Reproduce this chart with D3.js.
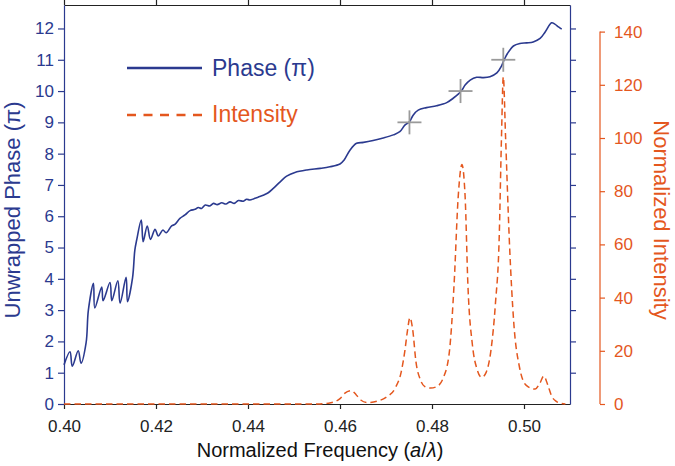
<!DOCTYPE html>
<meta charset="utf-8">
<style>
  body { margin: 0; background: #fff; }
  svg { font-family: "Liberation Sans", Arial, sans-serif; }
</style>
<svg width="675" height="466"></svg>
<script src="https://d3js.org/d3.v7.min.js"></script>
<script>

// phase curve: [normalized frequency, phase in units of pi]
var phaseFreq = [0.4000, 0.4013, 0.4018, 0.4031, 0.4037, 0.4048, 0.4053, 0.4064, 0.4067, 0.4082,
  0.4085, 0.4100, 0.4104, 0.4117, 0.4122, 0.4135, 0.4138, 0.4149, 0.4154, 0.4158,
  0.4168, 0.4172, 0.4181, 0.4188, 0.4198, 0.4205, 0.4215, 0.4222, 0.4234, 0.4241,
  0.4252, 0.4263, 0.4274, 0.4285, 0.4292, 0.4299, 0.4307, 0.4317, 0.4325, 0.4333,
  0.4343, 0.4352, 0.4361, 0.4370, 0.4379, 0.4390, 0.4397, 0.4404, 0.4413, 0.4422,
  0.4433, 0.4444, 0.4455, 0.4470, 0.4484, 0.4502, 0.4528, 0.4557, 0.4578, 0.4600,
  0.4609, 0.4622, 0.4636, 0.4651, 0.4672, 0.4694, 0.4716, 0.4730, 0.4741, 0.4751,
  0.4759, 0.4770, 0.4788, 0.4810, 0.4832, 0.4846, 0.4857, 0.4865, 0.4872, 0.4883,
  0.4897, 0.4912, 0.4926, 0.4941, 0.4951, 0.4957, 0.4964, 0.4977, 0.4991, 0.5006,
  0.5020, 0.5035, 0.5046, 0.5060, 0.5067, 0.5075, 0.5082];
var phaseVal = [1.25, 1.67, 1.21, 1.70, 1.30, 1.95, 3.00, 3.86, 3.07, 3.74,
  3.30, 3.88, 3.30, 3.94, 3.22, 4.05, 3.27, 4.03, 4.92, 5.24,
  5.88, 5.19, 5.69, 5.26, 5.58, 5.37, 5.56, 5.47, 5.69, 5.74,
  5.93, 6.04, 6.18, 6.22, 6.28, 6.25, 6.36, 6.33, 6.41, 6.37,
  6.43, 6.39, 6.46, 6.41, 6.50, 6.48, 6.54, 6.52, 6.56, 6.61,
  6.67, 6.75, 6.89, 7.10, 7.28, 7.40, 7.48, 7.53, 7.58, 7.67,
  7.80, 8.12, 8.33, 8.36, 8.42, 8.50, 8.60, 8.70, 8.91, 9.02,
  9.23, 9.39, 9.47, 9.53, 9.63, 9.77, 9.90, 10.03, 10.19, 10.35,
  10.44, 10.43, 10.46, 10.58, 10.80, 11.00, 11.20, 11.44, 11.52, 11.54,
  11.57, 11.68, 11.89, 12.18, 12.14, 12.05, 11.98];

// normalized intensity
var intFreq = [0.400, 0.455, 0.458, 0.460, 0.461, 0.4625, 0.4635, 0.4645, 0.466, 0.468,
  0.470, 0.472, 0.4733, 0.4741, 0.4747, 0.4752, 0.4758, 0.4765, 0.4775, 0.4785,
  0.4797, 0.481, 0.4825, 0.4838, 0.4848, 0.4857, 0.4865, 0.4872, 0.4878, 0.4888,
  0.4898, 0.4908, 0.4918, 0.4928, 0.4938, 0.4946, 0.4951, 0.4955, 0.4960, 0.4968,
  0.4978, 0.4990, 0.5005, 0.5024, 0.5035, 0.5043, 0.5052, 0.506, 0.507, 0.508, 0.509];
var intVal = [0, 0, 0.5, 2, 4, 5, 3.5, 1.5, 0.5, 1,
  2.5, 6, 12, 20, 28, 32.5, 28, 16, 9, 6.5,
  6, 6.5, 10, 20, 45, 78, 90, 78, 45, 22,
  13, 10, 12, 20, 38, 62, 100, 123, 100, 62,
  30, 14, 7, 5.6, 8, 10.5, 7, 3, 1, 0.3, 0];

// gray cross markers at the integer phase steps
var markFreq = [0.4751, 0.4862, 0.4955];
var markVal = [9, 10, 11];

var xTicks = [0.40, 0.42, 0.44, 0.46, 0.48, 0.50];
var leftTicks = [0, 1, 2, 3, 4, 5, 6, 7, 8, 9, 10, 11, 12];
var rightTicks = [0, 20, 40, 60, 80, 100, 120, 140];

var blue = "#2b3a8f", orange = "#e4571e";

var margin = {top: 5, right: 105, bottom: 62, left: 64},
    width = 675 - margin.left - margin.right,
    height = 466 - margin.top - margin.bottom;

var svg = d3.select("svg"),
    g = svg.append("g").attr("transform", "translate(" + margin.left + "," + margin.top + ")");

var x = d3.scaleLinear().domain([0.40, 0.51]).range([0, width]);
var yL = d3.scaleLinear().domain([0, 12.75]).range([height, 0]);
var yR = d3.scaleLinear().domain([0, 150]).range([height, 0]);

function styleAxis(sel, color, size) {
  sel.selectAll("path, line").attr("stroke", color).attr("stroke-width", 1.2);
  sel.selectAll("text").attr("fill", color).attr("font-size", size);
}

// top and bottom frame
g.append("g")
    .call(d3.axisTop(x).tickValues(xTicks).tickSize(5).tickSizeOuter(0).tickFormat(""))
    .call(styleAxis, "#222", 17);

g.append("g")
    .attr("transform", "translate(0," + height + ")")
    .call(d3.axisBottom(x).tickValues(xTicks).tickSize(5).tickSizeOuter(0).tickPadding(11).tickFormat(d3.format(".2f")))
    .call(styleAxis, "#222", 17);

// left and right phase axes
g.append("g")
    .call(d3.axisLeft(yL).tickValues(leftTicks).tickSize(6).tickSizeOuter(0).tickPadding(4))
    .call(styleAxis, blue, 17);

g.append("g")
    .attr("transform", "translate(" + width + ",0)")
    .call(d3.axisRight(yL).tickValues(leftTicks.slice(1)).tickSize(6).tickSizeOuter(0).tickFormat(""))
    .call(styleAxis, blue, 17);

// separate intensity axis
var rAxis = g.append("g")
    .attr("transform", "translate(" + (width + 30) + ",0)")
    .call(d3.axisRight(yR).tickValues(rightTicks).tickSize(5).tickPadding(9))
    .call(styleAxis, orange, 17);
rAxis.select(".domain").remove();
rAxis.append("line")
    .attr("y1", yR(0)).attr("y2", yR(140))
    .attr("stroke", orange).attr("stroke-width", 1.2);

// axis titles
g.append("text")
    .attr("transform", "translate(" + (20 - margin.left) + "," + (210 - margin.top) + ")rotate(-90)")
    .attr("text-anchor", "middle")
    .attr("font-size", 22)
    .attr("fill", blue)
    .text("Unwrapped Phase (\u03c0)");

g.append("text")
    .attr("transform", "translate(" + (654 - margin.left) + "," + (220 - margin.top) + ")rotate(90)")
    .attr("text-anchor", "middle")
    .attr("font-size", 22)
    .attr("fill", orange)
    .text("Normalized Intensity");

var xt = g.append("text")
    .attr("x", width / 2 + 3)
    .attr("y", 457 - margin.top)
    .attr("text-anchor", "middle")
    .attr("font-size", 20)
    .attr("fill", "#111")
    .text("Normalized Frequency (");
xt.append("tspan").attr("font-style", "italic").text("a");
xt.append("tspan").text("/");
xt.append("tspan").attr("font-style", "italic").text("\u03bb");
xt.append("tspan").text(")");

// curves
var intensity = intFreq.map(function(f, i) { return [f, intVal[i]]; });
var phase = phaseFreq.map(function(f, i) { return [f, phaseVal[i]]; });

g.append("path")
    .datum(intensity)
    .attr("fill", "none")
    .attr("stroke", orange)
    .attr("stroke-width", 1.5)
    .attr("stroke-dasharray", "6.5,4")
    .attr("d", d3.line()
        .x(function(d) { return x(d[0]); })
        .y(function(d) { return yR(d[1]); })
        .curve(d3.curveMonotoneX));

g.append("path")
    .datum(phase)
    .attr("fill", "none")
    .attr("stroke", blue)
    .attr("stroke-width", 1.6)
    .attr("stroke-linejoin", "round")
    .attr("d", d3.line()
        .x(function(d) { return x(d[0]); })
        .y(function(d) { return yL(d[1]); })
        .curve(d3.curveCatmullRom.alpha(0.5)));

var marks = g.append("g")
    .selectAll("g")
    .data(markFreq)
    .enter().append("g")
      .attr("transform", function(d, i) { return "translate(" + x(d) + "," + yL(markVal[i]) + ")"; })
      .attr("stroke", "#9a9a9a")
      .attr("stroke-width", 1.8);
marks.append("line").attr("x1", -12).attr("x2", 12);
marks.append("line").attr("y1", -12).attr("y2", 12);

// legend
var legend = g.append("g").attr("transform", "translate(" + (127 - margin.left) + "," + (68 - margin.top) + ")");
legend.append("line")
    .attr("x2", 75)
    .attr("stroke", blue).attr("stroke-width", 2.4);
legend.append("text")
    .attr("x", 85).attr("y", 8)
    .attr("font-size", 23).attr("fill", blue)
    .text("Phase (\u03c0)");
legend.append("line")
    .attr("y1", 47).attr("y2", 47).attr("x2", 75)
    .attr("stroke", orange).attr("stroke-width", 2.4)
    .attr("stroke-dasharray", "9,7.5");
legend.append("text")
    .attr("x", 85).attr("y", 54)
    .attr("font-size", 23).attr("fill", orange)
    .text("Intensity");

</script>
